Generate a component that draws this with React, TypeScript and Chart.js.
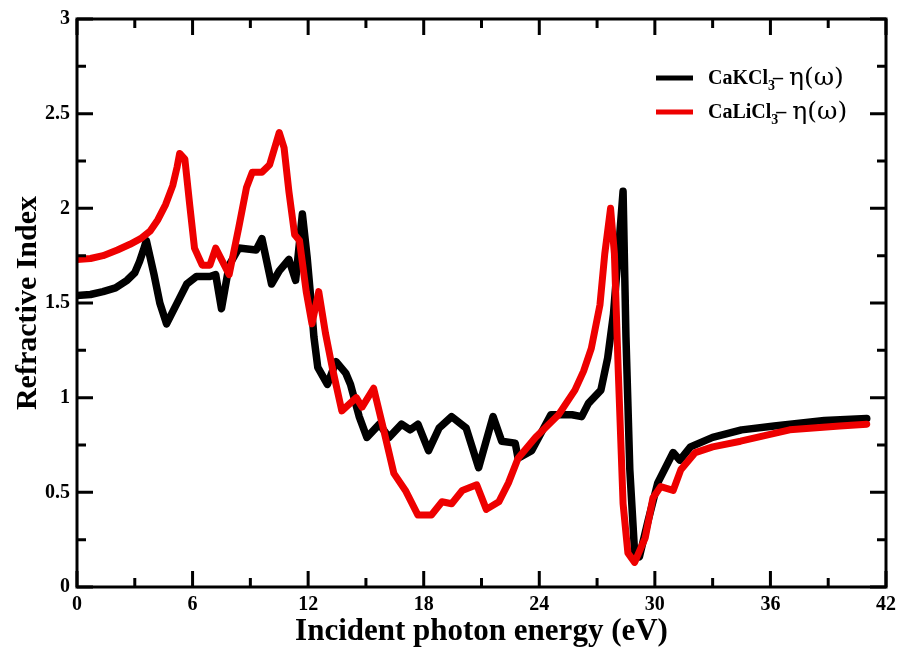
import { useEffect, useRef } from 'react';
import { Chart, registerables } from 'chart.js';

Chart.register(...registerables);

// ---- data ----
const caKClX = [0, 0.7, 1.35, 2.0, 2.6, 3.0, 3.25, 3.45, 3.6, 4.0, 4.3, 4.65, 5.15, 5.7, 6.2, 6.9, 7.2, 7.5, 7.9, 8.4, 9.3, 9.6, 10.1, 10.5, 11.0, 11.35, 11.7, 11.95, 12.15, 12.3, 12.5, 13.0, 13.45, 13.95, 14.2, 14.65, 15.05, 15.7, 16.2, 16.85, 17.3, 17.7, 18.25, 18.8, 19.45, 20.2, 20.85, 21.6, 22.05, 22.75, 22.9, 23.6, 24.6, 25.7, 26.2, 26.55, 27.2, 27.55, 27.85, 28.1, 28.35, 28.5, 28.7, 28.95, 29.2, 29.65, 30.15, 30.95, 31.3, 31.85, 33.0, 34.5, 36.2, 38.8, 41.0];
const caKClY = [1.54, 1.545, 1.56, 1.58, 1.62, 1.66, 1.72, 1.78, 1.83, 1.65, 1.5, 1.39, 1.49, 1.6, 1.64, 1.64, 1.65, 1.47, 1.7, 1.79, 1.78, 1.84, 1.6, 1.67, 1.73, 1.62, 1.97, 1.74, 1.51, 1.32, 1.16, 1.07, 1.19, 1.13, 1.07, 0.9, 0.79, 0.86, 0.79, 0.86, 0.83, 0.86, 0.72, 0.84, 0.9, 0.84, 0.63, 0.9, 0.77, 0.76, 0.68, 0.72, 0.91, 0.91, 0.9, 0.97, 1.04, 1.21, 1.44, 1.76, 2.09, 1.32, 0.62, 0.18, 0.16, 0.35, 0.55, 0.71, 0.67, 0.74, 0.79, 0.83, 0.85, 0.88, 0.89];

const caLiClX = [0, 0.7, 1.35, 2.1, 2.75, 3.3, 3.8, 4.2, 4.6, 4.97, 5.2, 5.33, 5.6, 5.85, 6.1, 6.5, 6.9, 7.2, 7.55, 7.9, 8.4, 8.8, 9.1, 9.6, 10.0, 10.5, 10.75, 11.0, 11.3, 11.55, 11.9, 12.2, 12.55, 12.9, 13.25, 13.75, 14.5, 14.8, 15.4, 15.85, 16.45, 17.05, 17.7, 18.4, 18.95, 19.45, 20.0, 20.75, 21.25, 21.9, 22.4, 22.9, 23.8, 25.0, 25.85, 26.3, 26.7, 27.15, 27.4, 27.7, 27.9, 28.1, 28.35, 28.6, 28.95, 29.5, 29.9, 30.3, 30.95, 31.35, 32.1, 33.0, 34.45, 37.0, 39.6, 41.0];
const caLiClY = [1.73, 1.735, 1.75, 1.78, 1.81, 1.84, 1.88, 1.94, 2.02, 2.12, 2.22, 2.29, 2.26, 2.02, 1.79, 1.7, 1.7, 1.79, 1.72, 1.65, 1.9, 2.11, 2.19, 2.19, 2.23, 2.4, 2.32, 2.09, 1.86, 1.83, 1.56, 1.39, 1.56, 1.34, 1.16, 0.93, 1.0, 0.95, 1.05, 0.86, 0.6, 0.51, 0.38, 0.38, 0.45, 0.44, 0.51, 0.54, 0.41, 0.45, 0.55, 0.68, 0.79, 0.91, 1.04, 1.14, 1.26, 1.49, 1.76, 2.0, 1.76, 1.14, 0.44, 0.18, 0.13, 0.26, 0.47, 0.53, 0.51, 0.62, 0.71, 0.74, 0.77, 0.83, 0.85, 0.86];

const xMajorTicks = [0, 6, 12, 18, 24, 30, 36, 42];
const xMinorTicks = [3, 9, 15, 21, 27, 33, 39];
const yMajorTicks = [0, 0.5, 1, 1.5, 2, 2.5, 3];
const yMinorTicks = [0.25, 0.75, 1.25, 1.75, 2.25, 2.75];

const seriesNames = ['CaKCl', 'CaLiCl'];
const seriesColors = ['#000000', '#ee0000'];

const SERIF = '"Liberation Serif", "Times New Roman", serif';

const framePlugin = {
  id: 'frameTicks',
  afterDraw(chart: any) {
    const ctx = chart.ctx;
    const { left, right, top, bottom } = chart.chartArea;
    const xs = chart.scales.x;
    const ys = chart.scales.y;
    ctx.save();
    ctx.strokeStyle = '#000';
    ctx.lineWidth = 3;
    ctx.lineCap = 'butt';
    ctx.strokeRect(left, top, right - left, bottom - top);
    const major = 16, minor = 9;
    ctx.beginPath();
    const xt = (arr: number[], len: number) => arr.forEach((v) => {
      const p = xs.getPixelForValue(v);
      ctx.moveTo(p, bottom); ctx.lineTo(p, bottom - len);
      ctx.moveTo(p, top); ctx.lineTo(p, top + len);
    });
    const yt = (arr: number[], len: number) => arr.forEach((v) => {
      const p = ys.getPixelForValue(v);
      ctx.moveTo(left, p); ctx.lineTo(left + len, p);
      ctx.moveTo(right, p); ctx.lineTo(right - len, p);
    });
    xt(xMajorTicks, major); xt(xMinorTicks, minor);
    yt(yMajorTicks, major); yt(yMinorTicks, minor);
    ctx.stroke();

    // legend
    const rows = [78, 112];
    rows.forEach((ly, i) => {
      ctx.strokeStyle = seriesColors[i];
      ctx.lineWidth = 5;
      ctx.beginPath();
      ctx.moveTo(656, ly); ctx.lineTo(693, ly);
      ctx.stroke();
      ctx.fillStyle = '#000';
      ctx.textBaseline = 'alphabetic';
      ctx.textAlign = 'left';
      let x = 708;
      const base = ly + 6;
      ctx.font = `bold 20px ${SERIF}`;
      ctx.fillText(seriesNames[i], x, base);
      x += ctx.measureText(seriesNames[i]).width;
      ctx.font = `bold 14px ${SERIF}`;
      ctx.fillText('3', x, base + 6);
      x += ctx.measureText('3').width - 2;
      ctx.font = `bold 20px ${SERIF}`;
      ctx.fillText('\u2013', x, base);
      x += ctx.measureText('\u2013').width + 6;
      ctx.font = `25px "DejaVu Serif", serif`;
      ctx.fillText('\u03B7(\u03C9)', x, base + 1);
    });
    ctx.restore();
  },
};

export default function App() {
  const ref = useRef<HTMLCanvasElement | null>(null);
  useEffect(() => {
    if (!ref.current) return;
    const mk = (xa: number[], ya: number[]) => xa.map((x, i) => ({ x, y: ya[i] }));
    const chart = new Chart(ref.current, {
      type: 'line',
      data: {
        datasets: [
          {
            label: 'CaLiCl3 – η(ω)',
            data: mk(caLiClX, caLiClY),
            borderColor: seriesColors[1],
            borderWidth: 7,
            pointRadius: 0,
            tension: 0,
            borderJoinStyle: 'round',
            borderCapStyle: 'round',
            order: 0,
          },
          {
            label: 'CaKCl3 – η(ω)',
            data: mk(caKClX, caKClY),
            borderColor: seriesColors[0],
            borderWidth: 7.5,
            pointRadius: 0,
            tension: 0,
            borderJoinStyle: 'round',
            borderCapStyle: 'round',
            order: 1,
          },
        ],
      },
      options: {
        responsive: false,
        animation: false,
        layout: { padding: { top: 17, right: 13, left: 0, bottom: 0 } },
        plugins: { legend: { display: false }, tooltip: { enabled: false } },
        scales: {
          x: {
            type: 'linear',
            min: 0,
            max: 42,
            afterBuildTicks: (s: any) => { s.ticks = xMajorTicks.map((v) => ({ value: v })); },
            afterFit: (s: any) => { s.height = 64; },
            grid: { display: false, drawTicks: false },
            border: { display: false },
            ticks: { color: '#000', padding: 6, maxRotation: 0, autoSkip: false, callback: (v: any) => String(v), font: { family: SERIF, size: 20, weight: 'bold' } },
            title: { display: true, text: 'Incident photon energy (eV)', color: '#000', padding: { top: 0, bottom: 0 }, font: { family: SERIF, size: 31, weight: 'bold' } },
          },
          y: {
            type: 'linear',
            min: 0,
            max: 3,
            afterBuildTicks: (s: any) => { s.ticks = yMajorTicks.map((v) => ({ value: v })); },
            afterFit: (s: any) => { s.width = 77; },
            grid: { display: false, drawTicks: false },
            border: { display: false },
            ticks: { color: '#000', padding: 7, autoSkip: false, callback: (v: any) => String(v), font: { family: SERIF, size: 20, weight: 'bold' } },
            title: { display: true, text: 'Refractive Index', color: '#000', padding: { top: 10, bottom: 0 }, font: { family: SERIF, size: 30, weight: 'bold' } },
          },
        },
      },
      plugins: [framePlugin],
    } as any);
    return () => chart.destroy();
  }, []);
  return (
    <div style={{ position: 'absolute', left: 0, top: 0, width: 902, height: 651, background: '#fff' }}>
      <canvas ref={ref} width={902} height={651} style={{ display: 'block' }} />
    </div>
  );
}
